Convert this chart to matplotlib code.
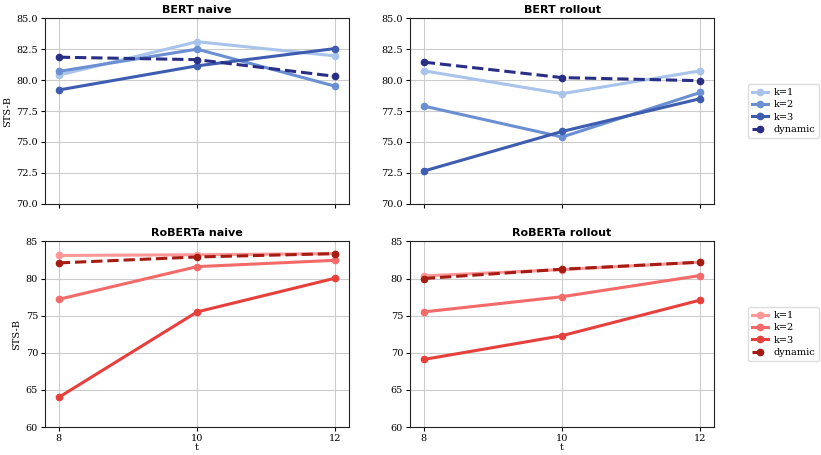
import matplotlib
matplotlib.use("Agg")
import matplotlib.pyplot as plt
import numpy as np

T = [8, 10, 12]
LABELS = ["k=1", "k=2", "k=3", "dynamic"]

bert_naive = {
    "k=1": [80.4, 83.1, 81.95],
    "k=2": [80.7, 82.5, 79.5],
    "k=3": [79.2, 81.15, 82.55],
    "dynamic": [81.85, 81.65, 80.3],
}
bert_rollout = {
    "k=1": [80.75, 78.9, 80.75],
    "k=2": [77.9, 75.4, 79.0],
    "k=3": [72.65, 75.85, 78.5],
    "dynamic": [81.45, 80.2, 79.95],
}
roberta_naive = {
    "k=1": [83.1, 83.2, 83.35],
    "k=2": [77.2, 81.6, 82.45],
    "k=3": [64.0, 75.5, 80.05],
    "dynamic": [82.1, 82.9, 83.35],
}
roberta_rollout = {
    "k=1": [80.35, 81.2, 82.2],
    "k=2": [75.5, 77.55, 80.4],
    "k=3": [69.1, 72.3, 77.1],
    "dynamic": [80.0, 81.25, 82.2],
}

BLUES = ["#a9c4ea", "#6a8fd2", "#3e5db0", "#2a2f86"]
REDS = ["#ff9796", "#f36a69", "#e6403d", "#a51c13"]

plt.rcParams["font.family"] = "DejaVu Serif"
plt.rcParams["font.size"] = 7

fig = plt.figure(figsize=(8.21, 4.55), dpi=100)
lefts = [0.0548, 0.4994]
w = 0.3705
h = 0.408
bottoms = [0.552, 0.0615]

panels = [
    (bert_naive, "BERT naive", BLUES, (70, 85), 2.5, 0, 0),
    (bert_rollout, "BERT rollout", BLUES, (70, 85), 2.5, 0, 1),
    (roberta_naive, "RoBERTa naive", REDS, (60, 85), 5, 1, 0),
    (roberta_rollout, "RoBERTa rollout", REDS, (60, 85), 5, 1, 1),
]

for data, title, colors, ylim, step, r, c in panels:
    ax = fig.add_axes([lefts[c], bottoms[r], w, h])
    for lab, col in zip(LABELS, colors):
        ls = "--" if lab == "dynamic" else "-"
        ax.plot(T, data[lab], ls, color=col, lw=2.2, marker="o", ms=4.5, label=lab)
    ax.set_ylim(*ylim)
    ax.set_yticks(np.arange(ylim[0], ylim[1] + 0.01, step))
    if step < 5:
        ax.yaxis.set_major_formatter(matplotlib.ticker.FormatStrFormatter("%.1f"))
    ax.set_xticks(T)
    ax.grid(True, color="#cccccc", lw=0.8)
    ax.set_axisbelow(True)
    ax.set_title(title, fontfamily="DejaVu Sans", fontweight="bold", fontsize=8, pad=4)
    for s in ax.spines.values():
        s.set_color("#222222")
    ax.tick_params(length=3, pad=2)
    if r == 0:
        ax.set_xticklabels([])
    else:
        ax.set_xlabel("t", labelpad=0)
    if c == 0:
        ax.set_ylabel("STS-B", labelpad=3)
    if c == 1:
        ax.legend(loc="center left", bbox_to_anchor=(1.105, 0.5), fontsize=7,
                  handlelength=1.7, framealpha=1, edgecolor="#dddddd",
                  borderpad=0.4, labelspacing=0.35, handletextpad=0.5,
                  borderaxespad=0.2)

fig.savefig("out.png", dpi=100)
